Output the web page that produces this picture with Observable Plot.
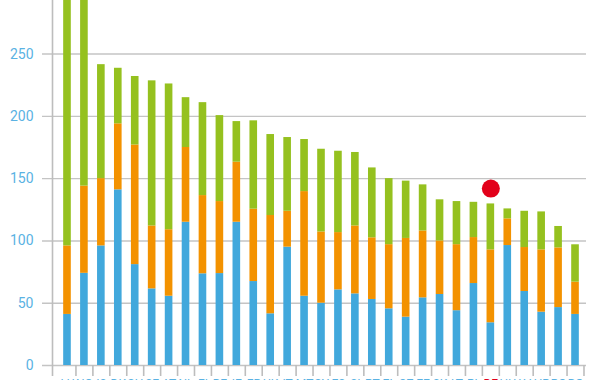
<!DOCTYPE html>
<html>
<head>
<meta charset="utf-8">
<script src="https://cdn.jsdelivr.net/npm/d3@7"></script>
<script src="https://cdn.jsdelivr.net/npm/@observablehq/plot@0.6"></script>
<style>
  html, body { margin: 0; padding: 0; background: #fff; overflow: hidden; }
  #chart svg { display: block; }
</style>
</head>
<body>
<div id="chart"></div>
<script>
const categories = ["LU","NO","IS","DK","CH","SE","AT","NL","FI","BE","IE","FR","UK","IT","MT","CY","ES","SI","PT","EL","CZ","EE","SK","LT","PL","DE","HU","LV","HR","RO","BG"];
const seriesNames = ["A","B","C"];
const blueValues   = [41, 74, 96, 141, 81, 61.5, 55.6, 115, 73.6, 73.8, 115, 67.4, 41.5, 95, 55.6, 50, 60.7, 57.5, 53, 45.5, 38.8, 54.3, 57, 44, 65.8, 34.3, 96.3, 59.4, 42.8, 46.5, 41];
const orangeValues = [55, 70, 54, 53, 96, 50.5, 53.4, 60, 62.8, 57.8, 48.2, 58.1, 78.9, 28.8, 84, 57.2, 46, 54.5, 49.5, 51.5, 63.2, 53.7, 43, 53, 36.9, 58.5, 21.4, 35.3, 50, 47.9, 25.9];
const greenValues  = [214, 156, 91.5, 44.6, 55, 116.5, 117, 40, 74.6, 69, 32.6, 70.9, 65, 59.2, 41.8, 66.4, 65.3, 59, 56.1, 53, 46, 37, 33, 34.6, 28.3, 36.9, 8, 29.1, 30.5, 17.2, 30];
const highlightCategory = "DE";
const highlightValue = 142;
const yTicks = [0, 50, 100, 150, 200, 250];

const colors = ["#41a8dc", "#f39200", "#95c11f"];
const labelBlue = "#5ab2e3";
const red = "#e2001a";

const rows = [];
categories.forEach((c, i) => {
  rows.push({cat: c, series: "A", value: blueValues[i]});
  rows.push({cat: c, series: "B", value: orangeValues[i]});
  rows.push({cat: c, series: "C", value: greenValues[i]});
});

const W = 600, H = 400, mL = 52, mR = 10, mT = 0, mB = 35;
const pIn = 0.55, pOut = 0.66;
const step = (W - mL - mR) / (categories.length - pIn + 2 * pOut);
const halfStep = step / 2;
const axisOffset = -(pOut * step + (1 - pIn) * step / 2);

const plot = Plot.plot({
  width: W,
  height: H,
  marginLeft: mL,
  marginRight: mR,
  marginTop: mT,
  marginBottom: mB,
  style: {fontFamily: "Roboto, sans-serif", background: "#fff"},
  x: {domain: categories, paddingInner: pIn, paddingOuter: pOut, round: false, axis: null},
  y: {domain: [0, 293], axis: null},
  color: {domain: seriesNames, range: colors},
  marks: [
    Plot.ruleY(yTicks, {y: d => d, stroke: "#c4c4c4", strokeWidth: 1.4, insetLeft: -10, insetRight: 4}),
    Plot.axisY({ticks: yTicks, tickSize: 0, tickPadding: 19, fontSize: 14, fill: labelBlue, label: null}),
    Plot.barY(rows, {x: "cat", y: "value", fill: "series", clip: true}),
    Plot.ruleX([categories[0]], {x: d => d, dx: axisOffset, stroke: "#bdbdbd", strokeWidth: 1.6, insetBottom: -11}),
    Plot.axisX({tickSize: 11, dx: halfStep, stroke: "#bdbdbd", strokeWidth: 1.6, text: null, label: null}),
    Plot.text(categories, {x: d => d, frameAnchor: "bottom", dy: 14, lineAnchor: "top", fontSize: 12,
      fill: d => d === highlightCategory ? red : labelBlue}),
    Plot.dot([{cat: highlightCategory, value: highlightValue}], {x: "cat", y: "value", r: 9, fill: red})
  ]
});
document.getElementById("chart").appendChild(plot);
</script>
</body>
</html>
